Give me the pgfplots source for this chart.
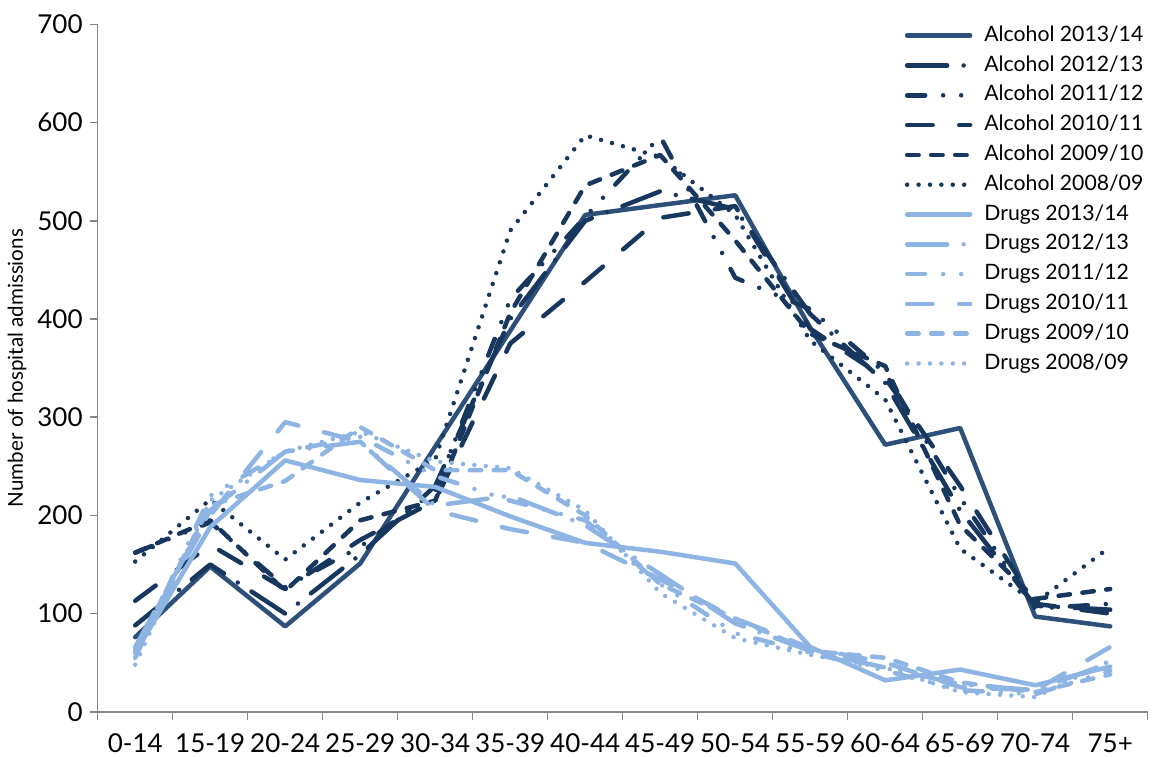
\documentclass[border=0pt]{standalone}
\usepackage{fontspec}
\setmainfont{Lato}
\usepackage{pgfplots}
\usepackage{pgfplotstable}
\pgfplotsset{compat=1.18}
\usetikzlibrary{calc}
\definecolor{alc}{HTML}{17375E}
\definecolor{alcs}{HTML}{2C5079}
\definecolor{drg}{HTML}{8DB4E2}
\definecolor{axgray}{HTML}{868686}

\pgfplotstableread{
x a13 a12 a11 a10 a09 a08 d13 d12 d11 d10 d09 d08
0.5 76 88 162 113 162 153 60 66 55 65 62 48
1.5 148 150 193 170 195 216 188 205 220 200 210 215
2.5 87 100 127 125 123 155 256 265 265 295 235 265
3.5 151 160 168 175 195 213 236 275 280 275 290 285
4.5 270 230 225 215 215 257 229 210 240 205 246 255
5.5 388 400 420 375 406 490 199 220 215 186 246 248
6.5 506 500 504 438 536 587 172 190 195 172 200 205
7.5 516 530 586 503 567 565 163 140 130 135 130 121
8.5 526 512 442 515 480 506 151 90 80 95 95 75
9.5 391 405 410 390 385 378 66 62 60 65 62 58
10.5 272 335 345 340 352 318 32 45 42 50 55 45
11.5 289 205 218 230 190 166 43 28 22 25 30 20
12.5 97 108 105 110 115 111 27 22 18 22 20 15
13.5 87 104 110 100 125 168 46 50 42 66 38 52
}\datatable

\pgfplotsset{
 s13/.style={solid},
 s12/.style={dash pattern=on 20pt off 8.25pt on 0pt off 8.25pt},
 s11/.style={dash pattern=on 9pt off 9pt on 0pt off 9pt on 0pt off 9pt},
 s10/.style={dash pattern=on 12.75pt off 13.25pt},
 s09/.style={dash pattern=on 5.75pt off 6.25pt},
 s08/.style={dash pattern=on 0pt off 5.7pt},
}

\begin{document}
\begin{tikzpicture}
\begin{axis}[
 width=525pt, height=343.7pt, scale only axis,
 xmin=0, xmax=14, ymin=0, ymax=700,
 axis lines=left,
 axis line style={-, axgray, line width=0.75pt},
 xtick={0,...,14},
 x tick label as interval=true,
 xticklabels={0-14,15-19,20-24,25-29,30-34,35-39,40-44,45-49,50-54,55-59,60-64,65-69,70-74,75+},
 ytick={0,100,...,700},
 tick align=outside,
 major tick length=4pt,
 tick style={axgray, line width=0.75pt},
 ticklabel style={font=\fontsize{13}{14}\selectfont},
 xticklabel style={yshift=-3.5pt},
 /pgf/number format/assume math mode=true,
 ylabel={Number of hospital admissions},
 every axis y label/.style={at={(rel axis cs:0,0.5)}, rotate=90, anchor=center, yshift=40.35pt, font=\fontsize{10.3}{11}\selectfont},
 every axis plot/.append style={line width=2.25pt, line cap=round, line join=round},
 legend cell align=left,
 legend image code/.code={\draw[#1] (0pt,0pt) -- (31.5pt,0pt);},
 legend style={at={(rel axis cs:1,1)}, anchor=north east, yshift=2pt, xshift=0.5pt, draw=none, fill=none, inner sep=0pt,
   font=\fontsize{10.6}{12}\selectfont, row sep=0pt,
   nodes={inner xsep=2.5pt, inner ysep=2.45pt, text height=7.8pt, text depth=2.2pt},
   /tikz/every odd column/.append style={column sep=3.5pt}},
]
\addplot[alcs, s13] table[x=x, y=a13] {\datatable};
\addlegendentry{Alcohol 2013/14}
\addplot[alc, s12] table[x=x, y=a12] {\datatable};
\addlegendentry{Alcohol 2012/13}
\addplot[alc, s11] table[x=x, y=a11] {\datatable};
\addlegendentry{Alcohol 2011/12}
\addplot[alc, s10] table[x=x, y=a10] {\datatable};
\addlegendentry{Alcohol 2010/11}
\addplot[alc, s09] table[x=x, y=a09] {\datatable};
\addlegendentry{Alcohol 2009/10}
\addplot[alc, s08] table[x=x, y=a08] {\datatable};
\addlegendentry{Alcohol 2008/09}
\addplot[drg, s13] table[x=x, y=d13] {\datatable};
\addlegendentry{Drugs 2013/14}
\addplot[drg, s12] table[x=x, y=d12] {\datatable};
\addlegendentry{Drugs 2012/13}
\addplot[drg, s11] table[x=x, y=d11] {\datatable};
\addlegendentry{Drugs 2011/12}
\addplot[drg, s10] table[x=x, y=d10] {\datatable};
\addlegendentry{Drugs 2010/11}
\addplot[drg, s09] table[x=x, y=d09] {\datatable};
\addlegendentry{Drugs 2009/10}
\addplot[drg, s08] table[x=x, y=d08] {\datatable};
\addlegendentry{Drugs 2008/09}
\coordinate (bl) at (rel axis cs:0,0);
\coordinate (tr) at (rel axis cs:1,1);
\end{axis}
\pgfresetboundingbox
\path[use as bounding box] ($(bl)+(-48.85pt,-22.6pt)$) rectangle ($(tr)+(5.65pt,12.2pt)$);
\end{tikzpicture}
\end{document}
